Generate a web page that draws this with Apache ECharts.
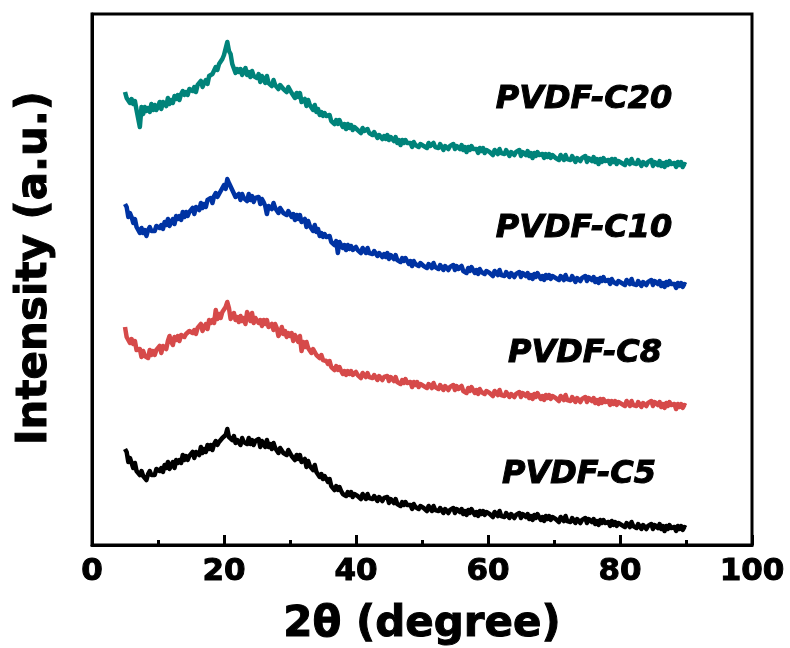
<!DOCTYPE html>
<html>
<head>
<meta charset="utf-8">
<script src="https://cdn.jsdelivr.net/npm/echarts@6/dist/echarts.min.js"></script>
<style>
  html, body { margin: 0; padding: 0; background: #fff; }
  #chart { width: 790px; height: 648px; }
</style>
</head>
<body>
<div id="chart"></div>
<script>
// XRD scans of PVDF composites, 2θ from 5° to 90° in 0.25° steps (intensity in a.u.)
const START_ANGLE = 5;
const STEP = 0.25;

const xTicks = [0, 20, 40, 60, 80, 100];

const seriesNames = ['PVDF-C20', 'PVDF-C10', 'PVDF-C8', 'PVDF-C5'];

const pvdfC20 = [
  453,447,449,442,446,441,444,435,437,418,438,431,438,434,437,433,441,435,440,435,
  438,443,436,443,442,439,447,441,445,442,449,446,450,445,451,454,450,453,450,456,
  458,454,458,453,460,458,464,458,462,465,461,469,467,471,469,478,475,481,479,486,
  490,492,503,494,491,481,481,472,476,473,476,470,474,477,470,473,468,474,469,471,
  467,471,463,469,466,462,469,462,464,459,465,460,462,456,460,462,456,457,453,458,
  458,452,453,447,452,448,452,443,445,446,439,445,440,440,435,440,433,436,430,433,
  429,432,429,427,430,424,426,421,425,421,425,421,418,421,416,421,417,420,415,418,
  418,415,416,412,417,414,412,416,412,413,410,413,410,407,410,411,406,409,406,410,
  405,408,406,404,408,402,405,400,405,402,405,402,400,402,398,403,400,402,398,401,
  402,399,401,397,402,399,397,402,398,400,397,401,399,395,399,400,396,399,397,401,
  396,399,397,396,400,395,398,393,398,395,399,396,394,396,392,397,394,397,392,395,
  396,393,395,390,395,393,391,396,392,394,391,395,392,389,393,394,390,393,391,395,
  389,393,391,390,394,389,392,387,392,389,393,390,388,391,387,391,388,391,387,390,
  390,387,389,385,390,388,385,390,386,388,385,389,386,383,387,388,384,387,385,389,
  383,387,385,384,388,383,386,381,386,383,387,384,382,385,381,386,383,386,381,384,
  385,382,384,380,385,383,381,386,382,384,381,385,382,379,383,384,380,383,381,385,
  379,383,381,380,384,379,382,378,383,380,384,381,379,382,378,383,380,383,378,381,
  380
];

const pvdfC10 = [
  341,338,328,332,328,322,326,318,318,312,317,312,315,309,315,318,314,316,314,319,
  321,317,320,316,323,320,326,319,323,326,321,329,326,329,325,333,328,333,329,333,
  332,337,331,338,337,335,342,337,341,338,345,343,347,342,349,352,348,351,350,357,
  360,356,366,362,360,355,357,348,350,351,345,351,347,349,344,351,345,349,343,347,
  345,348,341,346,343,339,331,339,341,336,342,337,339,332,337,338,332,333,330,334,
  334,328,331,325,330,326,330,323,325,326,318,324,319,320,314,320,313,316,309,312,
  308,311,308,306,309,303,305,300,304,292,303,300,297,300,295,300,296,299,295,297,
  298,295,297,292,297,295,292,297,292,294,291,294,292,289,292,293,288,291,288,292,
  286,290,288,286,290,285,287,283,287,284,287,284,281,284,279,284,281,283,279,282,
  282,279,281,277,281,279,277,282,278,280,276,280,278,275,279,280,275,278,276,280,
  275,279,276,275,279,274,276,272,277,274,278,275,272,275,271,276,273,275,271,274,
  275,272,274,269,274,272,270,275,270,272,269,273,271,268,272,272,268,271,269,273,
  268,272,270,269,272,267,270,266,271,268,272,269,266,269,265,270,267,270,266,269,
  270,267,269,265,269,267,265,270,266,268,265,269,266,263,267,268,264,267,265,269,
  264,268,266,265,268,263,266,262,267,264,268,264,262,265,261,266,263,265,261,264,
  265,262,264,260,265,263,261,266,261,263,260,264,262,259,263,264,260,263,261,265,
  260,264,262,261,264,259,262,258,263,260,264,261,259,261,257,262,259,262,258,261,
  260
];

const pvdfC8 = [
  218,208,209,202,206,201,204,195,196,196,188,194,189,191,187,195,190,194,190,195,
  194,199,192,199,198,196,204,209,203,200,208,205,209,204,210,212,208,211,209,214,
  216,212,215,211,217,215,221,214,218,221,216,225,222,225,222,235,226,231,227,233,
  232,238,243,237,226,227,232,225,228,223,229,224,227,221,233,229,224,232,222,227,
  228,222,225,219,225,221,225,218,220,221,215,221,217,209,212,218,211,214,208,212,
  209,212,204,210,207,203,209,194,203,198,203,197,199,192,196,196,190,191,187,190,
  185,187,184,181,184,178,180,175,179,175,178,174,171,174,170,174,171,174,170,172,
  173,170,172,167,172,170,168,172,168,170,167,170,168,165,169,169,165,168,166,169,
  164,168,166,164,168,163,165,161,165,162,166,162,160,163,158,163,160,163,158,161,
  162,159,161,157,161,159,157,162,158,160,156,160,158,155,159,160,155,158,156,160,
  155,159,156,155,159,154,156,152,157,154,158,155,152,155,151,156,153,155,151,154,
  155,152,154,149,154,152,150,155,150,152,149,153,151,148,151,152,148,151,149,153,
  148,152,150,149,152,147,150,146,151,148,152,149,146,149,145,150,147,150,146,149,
  150,147,149,144,149,147,145,150,145,147,144,148,146,143,147,147,143,146,144,148,
  143,147,145,144,147,142,145,141,146,142,146,143,141,144,140,144,141,144,140,143,
  144,141,143,139,144,142,139,144,140,142,139,143,141,138,142,143,139,142,140,144,
  139,143,141,140,143,138,141,137,142,139,143,140,138,141,136,141,138,141,137,140,
  139
];

const pvdfC5 = [
  96,93,83,87,82,77,82,74,76,70,74,69,70,65,71,74,70,72,70,76,
  78,74,77,73,80,77,83,76,80,83,77,85,82,85,82,90,85,89,85,89,
  88,93,87,93,92,90,98,92,96,93,100,96,100,95,101,104,100,103,101,107,
  109,110,116,108,110,105,109,102,105,107,100,107,103,105,101,107,101,105,100,104,
  102,106,98,104,102,98,105,98,101,96,102,97,99,92,97,98,92,94,90,95,
  95,89,91,85,90,86,90,83,85,86,78,84,79,80,75,80,73,75,68,71,
  66,69,66,63,66,59,61,55,59,55,58,54,51,53,49,53,50,53,48,51,
  52,49,50,46,51,49,46,51,47,49,46,49,47,44,48,49,44,47,45,48,
  42,46,44,42,46,41,43,39,43,40,43,40,38,40,36,41,38,40,36,39,
  40,37,38,34,39,37,34,39,35,37,34,37,35,32,36,37,32,35,33,37,
  32,36,34,33,36,31,34,30,35,32,36,33,30,33,29,34,31,34,30,33,
  34,31,32,28,33,31,29,34,29,31,28,32,30,27,31,32,27,30,28,32,
  27,31,29,28,31,26,29,25,30,27,31,28,25,28,24,29,26,29,25,28,
  29,26,27,23,28,26,24,29,24,26,23,27,25,22,26,27,22,25,23,27,
  22,26,24,23,26,21,24,20,25,22,25,22,20,23,19,24,20,23,19,22,
  23,20,22,18,22,20,18,23,19,21,17,21,19,16,20,21,16,19,17,21,
  16,20,18,17,21,16,19,14,19,16,20,17,15,18,14,19,16,19,15,18,
  17
];

const seriesColors = ['#00837A', '#0033A3', '#D64A4A', '#000000'];

// pair each intensity with its 2θ angle
function toPairs(values) {
  return values.map((v, i) => [START_ANGLE + i * STEP, v]);
}

const FONT = '"DejaVu Sans", "Liberation Sans", Arial, sans-serif';

const chart = echarts.init(document.getElementById('chart'), null, { renderer: 'canvas' });

const allSeries = [pvdfC20, pvdfC10, pvdfC8, pvdfC5].map((vals, k) => ({
  name: seriesNames[k],
  type: 'line',
  data: toPairs(vals),
  showSymbol: false,
  symbol: 'none',
  sampling: null,
  animation: false,
  lineStyle: { color: seriesColors[k], width: 4.5, join: 'round', cap: 'butt' },
  itemStyle: { color: seriesColors[k] },
  z: 2
}));

// curve names written beside each trace
const nameLabels = [
  { text: 'PVDF-C20', x: 584, y: 100 },
  { text: 'PVDF-C10', x: 584, y: 229 },
  { text: 'PVDF-C8', x: 585, y: 354 },
  { text: 'PVDF-C5', x: 579, y: 475 }
];

const heavyText = { textBorderColor: '#000', textBorderWidth: 1 };

chart.setOption({
  backgroundColor: '#ffffff',
  animation: false,
  grid: {
    left: 92, right: 38, top: 14, bottom: 103,
    containLabel: false,
    outerBoundsMode: 'none',
    show: true, borderColor: '#000', borderWidth: 3, backgroundColor: 'transparent'
  },
  xAxis: {
    type: 'value',
    min: xTicks[0],
    max: xTicks[xTicks.length - 1],
    interval: xTicks[1] - xTicks[0],
    axisLine: { show: true, lineStyle: { color: '#000', width: 3 } },
    axisTick: { show: true, inside: true, length: 10, lineStyle: { color: '#000', width: 3 } },
    minorTick: { show: true, splitNumber: 2, length: 5, lineStyle: { color: '#000', width: 3 } },
    splitLine: { show: false },
    minorSplitLine: { show: false },
    axisLabel: Object.assign({
      color: '#000', fontFamily: FONT, fontWeight: 'bold', fontSize: 31, margin: 11
    }, heavyText),
    name: '2θ (degree)',
    nameLocation: 'middle',
    nameGap: 59,
    nameTextStyle: Object.assign({ color: '#000', fontFamily: FONT, fontWeight: 'bold', fontSize: 42 }, heavyText)
  },
  yAxis: {
    type: 'value',
    min: 0,
    max: 531,
    axisLine: { show: true, lineStyle: { color: '#000', width: 3 } },
    axisTick: { show: false },
    axisLabel: { show: false },
    splitLine: { show: false }
  },
  series: allSeries,
  graphic: [
    // vertical axis title
    {
      type: 'text',
      x: 35,
      y: 268,
      rotation: Math.PI / 2,
      z: 10,
      style: {
        text: 'Intensity (a.u.)',
        fill: '#000',
        stroke: '#000',
        lineWidth: 1,
        font: 'bold 42px ' + FONT,
        align: 'center',
        verticalAlign: 'middle'
      }
    }
  ].concat(nameLabels.map(l => ({
    type: 'text',
    x: l.x,
    y: l.y,
    z: 10,
    style: {
      text: l.text,
      fill: '#000',
      stroke: '#000',
      lineWidth: 1,
      font: 'italic bold 32px ' + FONT,
      align: 'center',
      verticalAlign: 'middle'
    }
  })))
});
</script>
</body>
</html>
